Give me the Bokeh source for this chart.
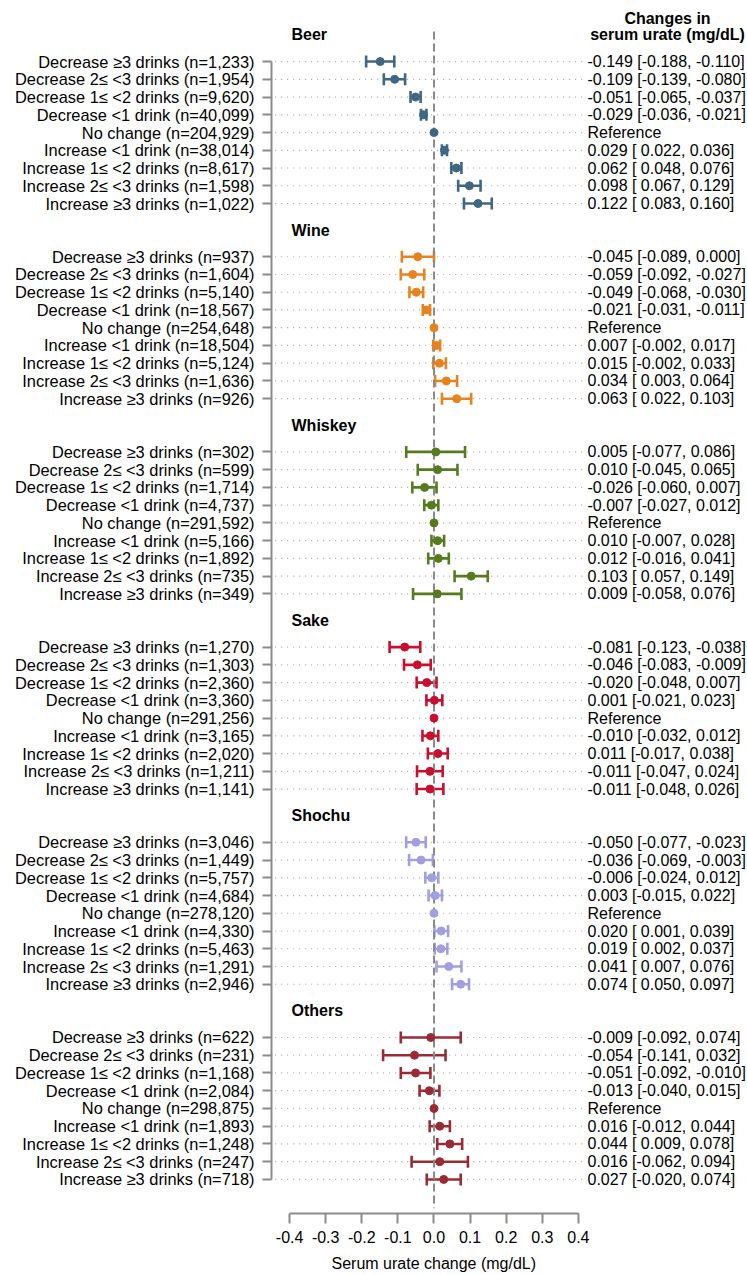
import numpy as np
import pandas as pd
from bokeh.plotting import figure
from bokeh.models import ColumnDataSource, FixedTicker, NumeralTickFormatter, Range1d, Title
from bokeh.core.properties import value
from bokeh.embed import file_html
from bokeh.resources import INLINE

# ---------------- data ----------------
categories = ["Decrease \u22653 drinks", "Decrease 2\u2264 <3 drinks", "Decrease 1\u2264 <2 drinks",
              "Decrease <1 drink", "No change", "Increase <1 drink",
              "Increase 1\u2264 <2 drinks", "Increase 2\u2264 <3 drinks", "Increase \u22653 drinks"]
groups = ["Beer", "Wine", "Whiskey", "Sake", "Shochu", "Others"]
colors = ["#3f6683", "#e8821e", "#567a1e", "#c8102e", "#a29ee2", "#9a2b35"]

beer_n = [1233, 1954, 9620, 40099, 204929, 38014, 8617, 1598, 1022]
beer_est = [-0.149, -0.109, -0.051, -0.029, 0.0, 0.029, 0.062, 0.098, 0.122]
beer_lo = [-0.188, -0.139, -0.065, -0.036, None, 0.022, 0.048, 0.067, 0.083]
beer_hi = [-0.110, -0.080, -0.037, -0.021, None, 0.036, 0.076, 0.129, 0.160]

wine_n = [937, 1604, 5140, 18567, 254648, 18504, 5124, 1636, 926]
wine_est = [-0.045, -0.059, -0.049, -0.021, 0.0, 0.007, 0.015, 0.034, 0.063]
wine_lo = [-0.089, -0.092, -0.068, -0.031, None, -0.002, -0.002, 0.003, 0.022]
wine_hi = [0.000, -0.027, -0.030, -0.011, None, 0.017, 0.033, 0.064, 0.103]

whiskey_n = [302, 599, 1714, 4737, 291592, 5166, 1892, 735, 349]
whiskey_est = [0.005, 0.010, -0.026, -0.007, 0.0, 0.010, 0.012, 0.103, 0.009]
whiskey_lo = [-0.077, -0.045, -0.060, -0.027, None, -0.007, -0.016, 0.057, -0.058]
whiskey_hi = [0.086, 0.065, 0.007, 0.012, None, 0.028, 0.041, 0.149, 0.076]

sake_n = [1270, 1303, 2360, 3360, 291256, 3165, 2020, 1211, 1141]
sake_est = [-0.081, -0.046, -0.020, 0.001, 0.0, -0.010, 0.011, -0.011, -0.011]
sake_lo = [-0.123, -0.083, -0.048, -0.021, None, -0.032, -0.017, -0.047, -0.048]
sake_hi = [-0.038, -0.009, 0.007, 0.023, None, 0.012, 0.038, 0.024, 0.026]

shochu_n = [3046, 1449, 5757, 4684, 278120, 4330, 5463, 1291, 2946]
shochu_est = [-0.050, -0.036, -0.006, 0.003, 0.0, 0.020, 0.019, 0.041, 0.074]
shochu_lo = [-0.077, -0.069, -0.024, -0.015, None, 0.001, 0.002, 0.007, 0.050]
shochu_hi = [-0.023, -0.003, 0.012, 0.022, None, 0.039, 0.037, 0.076, 0.097]

others_n = [622, 231, 1168, 2084, 298875, 1893, 1248, 247, 718]
others_est = [-0.009, -0.054, -0.051, -0.013, 0.0, 0.016, 0.044, 0.016, 0.027]
others_lo = [-0.092, -0.141, -0.092, -0.040, None, -0.012, 0.009, -0.062, -0.020]
others_hi = [0.074, 0.032, -0.010, 0.015, None, 0.044, 0.078, 0.094, 0.074]

x_ticks = [-0.4, -0.3, -0.2, -0.1, 0.0, 0.1, 0.2, 0.3, 0.4]
x_title = "Serum urate change (mg/dL)"

# ---------------- build table ----------------
all_n = [beer_n, wine_n, whiskey_n, sake_n, shochu_n, others_n]
all_est = [beer_est, wine_est, whiskey_est, sake_est, shochu_est, others_est]
all_lo = [beer_lo, wine_lo, whiskey_lo, sake_lo, shochu_lo, others_lo]
all_hi = [beer_hi, wine_hi, whiskey_hi, sake_hi, shochu_hi, others_hi]

GROUP_STEP = 11
rows = []
for g, name in enumerate(groups):
    for i, cat in enumerate(categories):
        lo = all_lo[g][i]
        hi = all_hi[g][i]
        est = all_est[g][i]
        if lo is None:
            txt = "Reference"
        else:
            txt = f"{est:.3f} [{lo:6.3f}, {hi:6.3f}]"
        rows.append(dict(y=g * GROUP_STEP + i,
                         label=f"{cat} (n={all_n[g][i]:,})",
                         est=est,
                         lo=np.nan if lo is None else lo,
                         hi=np.nan if hi is None else hi,
                         color=colors[g], txt=txt, group=name))
df = pd.DataFrame(rows)
ci = df.dropna(subset=["lo"])

src = ColumnDataSource(df)
src_ci = ColumnDataSource(ci)

y_top = -2.99
y_bot = (len(groups) - 1) * GROUP_STEP + 8 + 1.92
x_left, x_right = -0.4501, 0.8684
x_text = 0.4252

p = figure(width=747, height=1275, output_backend="svg", toolbar_location=None,
           x_range=Range1d(x_left, x_right), y_range=Range1d(y_bot, y_top),
           min_border_left=271, min_border_right=0, min_border_top=8, min_border_bottom=0)
p.frame_width = 476
p.frame_height = 1205
p.outline_line_color = None
p.xgrid.visible = False
p.ygrid.visible = False

FONT = "Liberation Sans"
FS = "16px"
AX = "#8a8a8a"

# dotted guide lines
p.segment(x0=-0.44, x1=0.414, y0="y", y1="y", source=src,
          line_color="#a5a5a5", line_width=1.2, line_dash="1 5")

# CI bars
p.segment(x0="lo", x1="hi", y0="y", y1="y", source=src_ci,
          line_color="color", line_width=2.6)
p.scatter(x="lo", y="y", source=src_ci, marker="dash", angle=np.pi / 2,
          size=12, line_color="color", line_width=2.6)
p.scatter(x="hi", y="y", source=src_ci, marker="dash", angle=np.pi / 2,
          size=12, line_color="color", line_width=2.6)

# zero reference line
p.segment(x0=0, x1=0, y0=-1.7, y1=y_bot - 0.3, line_color=AX, line_width=2, line_dash="8 4")

# point estimates
p.scatter(x="est", y="y", source=src, marker="circle", size=8,
          fill_color="color", line_color="color")

# right column text
p.text(x=x_text, y="y", text="txt", source=src, text_font=value(FONT),
       text_font_size=FS, text_baseline="middle", text_align="left", text_color="black")

# group headers
hdr = ColumnDataSource(dict(x=[-0.3947] * len(groups),
                            y=[g * GROUP_STEP - 1.5 for g in range(len(groups))],
                            t=groups))
p.text(x="x", y="y", text="t", source=hdr, text_font=value(FONT), text_font_size=FS,
       text_font_style="bold", text_baseline="middle", text_align="left")

p.text(x=[0.6468, 0.6468], y=[-2.45, -1.5], text=["Changes in", "serum urate (mg/dL)"],
       text_font=value(FONT), text_font_size=FS, text_font_style="bold",
       text_baseline="middle", text_align="center")

# y axis
ya = p.yaxis[0]
ya.ticker = FixedTicker(ticks=list(df["y"]))
ya.major_label_overrides = {int(r.y): r.label for r in df.itertuples()}
ya.bounds = (0, (len(groups) - 1) * GROUP_STEP + 8)
ya.axis_line_color = AX
ya.axis_line_width = 2
ya.major_tick_line_color = AX
ya.major_tick_line_width = 2
ya.major_tick_out = 9
ya.major_tick_in = 0
ya.minor_tick_line_color = None
ya.major_label_standoff = 8
ya.major_label_text_font = FONT
ya.major_label_text_font_size = "16.4px"
ya.major_label_text_color = "black"

# x axis
xa = p.xaxis[0]
xa.ticker = FixedTicker(ticks=x_ticks)
xa.formatter = NumeralTickFormatter(format="0.0")
xa.bounds = (x_ticks[0], x_ticks[-1])
xa.axis_line_color = AX
xa.axis_line_width = 2
xa.major_tick_line_color = AX
xa.major_tick_line_width = 2
xa.major_tick_out = 10
xa.major_tick_in = 0
xa.minor_tick_line_color = None
xa.major_label_standoff = 7
xa.major_label_text_font = FONT
xa.major_label_text_font_size = FS
xa.major_label_text_color = "black"

# axis title, centred under 0.0 of the bounded axis
p.add_layout(Title(text=x_title, align="left", offset=60, standoff=14,
                   text_font=FONT, text_font_size=FS, text_font_style="normal",
                   text_color="black"), "below")

open("out.html", "w").write(file_html(p, INLINE))
